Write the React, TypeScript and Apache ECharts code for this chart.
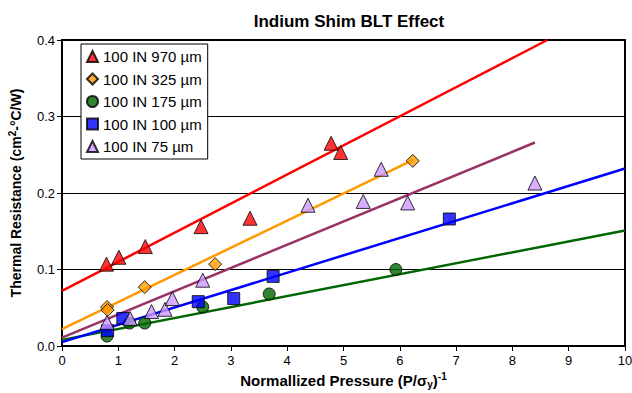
import React, { useEffect, useRef } from "react";
import * as echarts from "echarts";

const xTicks = [0, 1, 2, 3, 4, 5, 6, 7, 8, 9, 10];
const yTicks = [0, 0.1, 0.2, 0.3, 0.4];

const s970: number[][] = [
  [0.79, 0.107], [1.01, 0.116], [1.48, 0.13], [2.47, 0.156], [3.34, 0.167], [4.78, 0.265], [4.95, 0.253],
];
const s325: number[][] = [
  [0.8, 0.051], [0.81, 0.047], [1.47, 0.077], [2.72, 0.107], [6.23, 0.242],
];
const s175: number[][] = [
  [0.8, 0.013], [1.2, 0.03], [1.47, 0.03], [2.5, 0.051], [3.68, 0.068], [5.93, 0.1],
];
const s100: number[][] = [
  [0.81, 0.02], [1.08, 0.036], [2.42, 0.058], [3.05, 0.062], [3.75, 0.091], [6.88, 0.166],
];
const s75: number[][] = [
  [0.8, 0.031], [1.21, 0.036], [1.59, 0.045], [1.83, 0.048], [1.96, 0.062], [2.5, 0.086],
  [4.37, 0.184], [5.35, 0.189], [5.67, 0.231], [6.14, 0.187], [8.4, 0.213],
];

const t970: number[][] = [[0, 0.072], [8.62, 0.4]];
const t325: number[][] = [[0, 0.022], [6.23, 0.243]];
const t175: number[][] = [[0, 0.008], [10, 0.151]];
const t100: number[][] = [[0, 0.005], [10, 0.232]];
const t75: number[][] = [[0, 0.011], [8.4, 0.266]];

const names = ["100 IN 970 µm", "100 IN 325 µm", "100 IN 175 µm", "100 IN 100 µm", "100 IN 75 µm"];

export default function App() {
  const ref = useRef<HTMLDivElement>(null);
  useEffect(() => {
    if (!ref.current) return;
    const chart = echarts.init(ref.current, null, { renderer: "svg" });
    const font = "Arial, 'Liberation Sans', sans-serif";
    const scatter = (name: string, data: number[][], symbol: string, fill: string, size: number) => ({
      type: "scatter",
      name,
      data,
      symbol,
      symbolSize: size,
      itemStyle: { color: fill, borderColor: "#000", borderWidth: 1 },
      z: 5,
    });
    const trend = (data: number[][], color: string) => ({
      type: "line",
      data,
      showSymbol: false,
      symbol: "none",
      lineStyle: { color, width: 2.5 },
      clip: true,
      z: 3,
    });
    chart.setOption({
      animation: false,
      backgroundColor: "#fff",
      textStyle: { fontFamily: font },
      title: {
        text: "Indium Shim BLT Effect",
        left: 344,
        top: 8,
        textAlign: "center",
        textStyle: { fontSize: 17, fontWeight: "bold", color: "#000", fontFamily: font },
      },
      legend: {
        orient: "vertical",
        left: 81,
        top: 44,
        data: names,
        itemWidth: 11,
        itemHeight: 11,
        itemGap: 7.5,
        padding: [5, 6, 5, 5],
        borderColor: "#000",
        borderWidth: 1,
        backgroundColor: "#fff",
        textStyle: { fontSize: 15, lineHeight: 15, color: "#000", fontFamily: font },
      },
      grid: {
        left: 62,
        right: 7,
        top: 40,
        bottom: 47,
        outerBoundsMode: "none",
        containLabel: false,
        show: true,
        borderColor: "#000",
        borderWidth: 2,
        backgroundColor: "#fff",
      },
      xAxis: {
        type: "value",
        min: 0,
        max: 10,
        interval: 1,
        axisLine: { show: true, lineStyle: { color: "#000", width: 2 } },
        axisTick: { show: true, length: 5, lineStyle: { color: "#000" } },
        splitLine: { show: false },
        axisLabel: {
          fontSize: 13,
          color: "#000",
          margin: 8,
          fontFamily: font,
          showMaxLabel: true,
          formatter: (v: number) => (xTicks.includes(v) ? String(v) : ""),
        },
        name: "{b|Normallized Pressure (P/σ}{s|y}{b|)}{p|-1}",
        nameLocation: "middle",
        nameGap: 23,
        nameTextStyle: {
          rich: {
            b: { fontSize: 15, fontWeight: "bold", color: "#000", fontFamily: font, lineHeight: 18, verticalAlign: "middle" },
            s: { fontSize: 10, fontWeight: "bold", color: "#000", fontFamily: font, lineHeight: 18, verticalAlign: "bottom", padding: [8, 0, 0, 0] },
            p: { fontSize: 10, fontWeight: "bold", color: "#000", fontFamily: font, lineHeight: 18, verticalAlign: "top", padding: [0, 0, 8, 0] },
          },
        },
      },
      yAxis: {
        type: "value",
        min: 0,
        max: 0.4,
        interval: 0.1,
        axisLine: { show: true, lineStyle: { color: "#000", width: 2 } },
        axisTick: { show: true, length: 5, lineStyle: { color: "#000" } },
        splitLine: { show: true, lineStyle: { color: "#000", width: 1 } },
        axisLabel: {
          fontSize: 13,
          color: "#000",
          margin: 7,
          fontFamily: font,
          formatter: (v: number) => {
            const t = yTicks.find((k) => Math.abs(k - v) < 1e-9);
            return t === undefined ? "" : t.toFixed(1);
          },
        },
        name: "{b|Thermal Resistance (cm}{p|2}{b|-°C/W)}",
        nameLocation: "middle",
        nameGap: 37,
        nameTextStyle: {
          rich: {
            b: { fontSize: 14, fontWeight: "bold", color: "#000", fontFamily: font, lineHeight: 18, verticalAlign: "middle" },
            p: { fontSize: 10, fontWeight: "bold", color: "#000", fontFamily: font, lineHeight: 18, verticalAlign: "top", padding: [0, 0, 8, 0] },
          },
        },
      },
      series: [
        trend(t970, "#FF0000"),
        trend(t325, "#FF9900"),
        trend(t175, "#006600"),
        trend(t100, "#0000FF"),
        trend(t75, "#993366"),
        scatter(names[0], s970, "triangle", "#FF0000", 14),
        scatter(names[1], s325, "diamond", "#FF9900", 13),
        scatter(names[2], s175, "circle", "#006600", 12),
        scatter(names[3], s100, "rect", "#0000FF", 12),
        scatter(names[4], s75, "triangle", "#CC99FF", 14),
      ],
    });
    return () => chart.dispose();
  }, []);
  return <div ref={ref} style={{ width: 632, height: 393, position: "fixed", left: 0, top: 0 }} />;
}
